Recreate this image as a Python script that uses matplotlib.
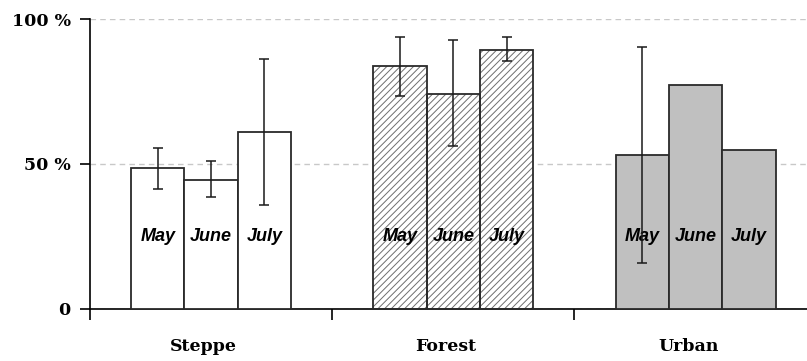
import numpy as np
import matplotlib
matplotlib.use("Agg")
import matplotlib.pyplot as plt

# ----------------------------
# Data (percent)
# ----------------------------
habitats = ["Steppe", "Forest", "Urban"]
months = ["May", "June", "July"]

steppe = [48.4, 44.5, 61.1]
forest = [83.7, 74.2, 89.3]
urban = [53.1, 77.1, 54.9]

# error bars: lower / upper extent (0 = none)
steppe_err_lo = [7.1, 6.0, 25.5]
steppe_err_hi = [7.0, 6.3, 25.0]
forest_err_lo = [10.4, 17.9, 3.7]
forest_err_hi = [10.0, 18.5, 4.4]
urban_err_lo = [37.4, 0, 0]
urban_err_hi = [37.1, 0, 0]

y_ticks = [0, 50, 100]
y_tick_labels = ["0", "50 %", "100 %"]

# ----------------------------
# Figure
# ----------------------------
plt.rcParams["hatch.linewidth"] = 0.7

fig = plt.figure(figsize=(8.07, 3.61), dpi=100)
ax = fig.add_axes([90 / 807, 52.5 / 361, 717 / 807, 289.5 / 361])

bar_w = 0.22
offsets = np.array([-1, 0, 1]) * bar_w
edge = "#2a2a2a"

styles = [
    dict(color="white", hatch=None),
    dict(color="white", hatch="/////"),
    dict(color="#c0c0c0", hatch=None),
]
values = [steppe, forest, urban]
err_lo = [steppe_err_lo, forest_err_lo, urban_err_lo]
err_hi = [steppe_err_hi, forest_err_hi, urban_err_hi]

for gi, (vals, st) in enumerate(zip(values, styles)):
    xs = gi + offsets
    if st["hatch"]:
        ax.bar(xs, vals, width=bar_w, color=st["color"], edgecolor="#6e6e6e",
               hatch=st["hatch"], linewidth=0, zorder=2)
        ax.bar(xs, vals, width=bar_w, fill=False, edgecolor=edge,
               linewidth=1.3, zorder=3)
    else:
        ax.bar(xs, vals, width=bar_w, color=st["color"], edgecolor=edge,
               linewidth=1.3, zorder=3)

    lo = np.array(err_lo[gi], dtype=float)
    hi = np.array(err_hi[gi], dtype=float)
    has = (lo + hi) > 0
    ax.errorbar(xs[has], np.array(vals)[has], yerr=[lo[has], hi[has]],
                fmt="none", ecolor="#1a1a1a", elinewidth=1.1, capsize=3.5,
                capthick=1.1, zorder=5)

    for x, m in zip(xs, months):
        ax.text(x, 25, m, ha="center", va="center", fontsize=13,
                fontstyle="italic", fontweight="bold",
                family=["Liberation Sans"], zorder=4)

# ----------------------------
# Axes styling
# ----------------------------
ax.set_xlim(-0.5, 2.46)
ax.set_ylim(0, 100)

for s in ["top", "right"]:
    ax.spines[s].set_visible(False)
ax.spines["left"].set_linewidth(1.2)
ax.spines["bottom"].set_linewidth(1.2)

ax.set_yticks(y_ticks)
ax.set_yticklabels(y_tick_labels, family="DejaVu Serif", fontweight="bold",
                   fontsize=12.5)
ax.tick_params(axis="y", length=7, width=1.2, pad=7)

ax.set_xticks([-0.5, 0.5, 1.5])
ax.set_xticklabels([])
ax.tick_params(axis="x", which="major", length=8, width=1.2)
ax.set_xticks(np.arange(len(habitats)) - 0.03, minor=True)
ax.set_xticklabels(habitats, minor=True, family="DejaVu Serif",
                   fontweight="bold", fontsize=12.5)
ax.tick_params(axis="x", which="minor", length=0, pad=21)

ax.yaxis.grid(True, linestyle=(0, (4, 3)), color="#c8c8c8", linewidth=1)
ax.set_axisbelow(True)
ax.grid(axis="x", visible=False)

fig.savefig("out.png", dpi=100)
